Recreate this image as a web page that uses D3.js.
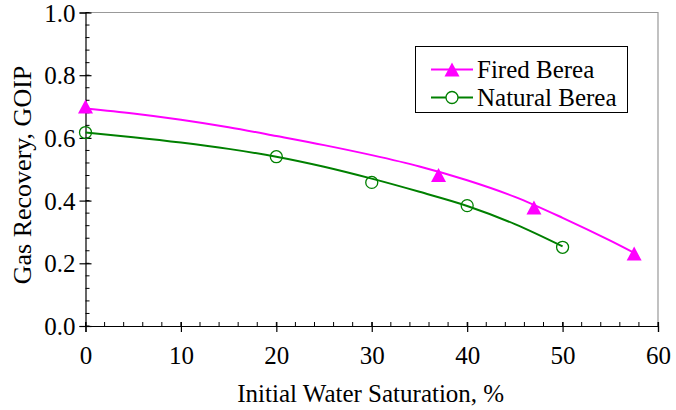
<!DOCTYPE html>
<html><head><meta charset="utf-8">
<script src="https://cdn.jsdelivr.net/npm/d3@7"></script>
<style>body{margin:0;background:#fff}svg{display:block}</style>
</head><body>
<svg id="c" width="676" height="410"></svg>
<script>
// Data
const firedX = [0, 37, 47, 57.5];
const firedY = [0.70, 0.482, 0.378, 0.231];
const naturalX = [0, 20, 30, 40, 50];
const naturalY = [0.617, 0.540, 0.458, 0.384, 0.251];
// Trend curves
const firedTrendX = [0, 5, 10, 15, 20, 25, 30, 35, 40, 45, 50, 55, 57.5];
const firedTrendY = [0.694, 0.678, 0.658, 0.634, 0.606, 0.577, 0.545, 0.509, 0.465, 0.412, 0.345, 0.272, 0.233];
const naturalTrendX = [0, 5, 10, 15, 20, 25, 30, 35, 40, 45, 50];
const naturalTrendY = [0.617, 0.602, 0.585, 0.565, 0.540, 0.508, 0.470, 0.428, 0.383, 0.325, 0.254];
const xTicks = [0, 10, 20, 30, 40, 50, 60];
const yTicks = [0.0, 0.2, 0.4, 0.6, 0.8, 1.0];
const seriesNames = ["Fired Berea", "Natural Berea"];
const xTitle = "Initial Water Saturation, %";
const yTitle = "Gas Recovery, GOIP";

const FONT = "'Liberation Serif'";
const svg = d3.select("#c");
const L = 85.5, R = 658, T = 12.5, B = 326;
const x = d3.scaleLinear().domain([0, 60]).range([L, R]);
const y = d3.scaleLinear().domain([0, 1]).range([B, T]);
const pink = "#ff00ff", green = "#008000";
const fs = 25;

// frame (top & right)
svg.append("path").attr("d", `M${L},${T}H${R}V${B}`).attr("fill","none").attr("stroke","#999").attr("stroke-width",1.2);

// minor ticks
const yMinor = d3.range(0, 1.0001, 0.04);
svg.append("g").selectAll("line").data(yMinor).join("line")
  .attr("x1", L).attr("x2", L + 4).attr("y1", d => y(d)).attr("y2", d => y(d))
  .attr("stroke", "#000").attr("stroke-width", 1);
const xMinor = d3.range(0, 60.001, 2);
svg.append("g").selectAll("line").data(xMinor).join("line")
  .attr("x1", d => x(d)).attr("x2", d => x(d)).attr("y1", B).attr("y2", B - 4)
  .attr("stroke", "#000").attr("stroke-width", 1);

// axes
const yAxis = svg.append("g").attr("transform", `translate(${L},0)`)
  .call(d3.axisLeft(y).tickValues(yTicks).tickFormat(d3.format(".1f")).tickSize(6).tickPadding(4));
const xAxis = svg.append("g").attr("transform", `translate(0,${B})`)
  .call(d3.axisBottom(x).tickValues(xTicks).tickFormat(d3.format("d")).tickSize(6).tickPadding(14));
[yAxis, xAxis].forEach(g => {
  g.attr("font-family", null).attr("font-size", null);
  g.select(".domain").attr("stroke", "#000").attr("stroke-width", 1.2);
  g.selectAll(".tick line").attr("stroke", "#000").attr("stroke-width", 1.2);
  g.selectAll("text").style("font-size", fs + "px").style("font-family", FONT).attr("fill", "#000");
});
yAxis.selectAll(".tick line").attr("x2", -6).attr("x1", 6);
xAxis.selectAll(".tick line").attr("y1", -4);
yAxis.selectAll(".tick text").attr("dy", "0.34em");

// titles
svg.append("text").attr("x", (L + R) / 2 - 1).attr("y", 402).attr("text-anchor", "middle")
  .style("font-family", FONT).style("font-size", fs + "px").text(xTitle);
svg.append("text").attr("transform", `translate(31,175) rotate(-90)`).attr("text-anchor", "middle")
  .style("font-family", FONT).style("font-size", "26px").text(yTitle);

// curves
const line = d3.line().x(d => x(d[0])).y(d => y(d[1])).curve(d3.curveMonotoneX);
svg.append("path").datum(d3.zip(firedTrendX, firedTrendY)).attr("d", line)
  .attr("fill", "none").attr("stroke", pink).attr("stroke-width", 2);
svg.append("path").datum(d3.zip(naturalTrendX, naturalTrendY)).attr("d", line)
  .attr("fill", "none").attr("stroke", green).attr("stroke-width", 2);

// markers
const tri = "M0,-7L7.5,7L-7.5,7Z";
svg.append("g").selectAll("path").data(d3.zip(firedX, firedY)).join("path")
  .attr("d", tri).attr("transform", d => `translate(${x(d[0])},${y(d[1])})`).attr("fill", pink);
svg.append("g").selectAll("circle").data(d3.zip(naturalX, naturalY)).join("circle")
  .attr("cx", d => x(d[0])).attr("cy", d => y(d[1])).attr("r", 6)
  .attr("fill", "none").attr("stroke", green).attr("stroke-width", 1.3);

// legend
const lg = svg.append("g");
lg.append("rect").attr("x", 415.5).attr("y", 46.5).attr("width", 212).attr("height", 66)
  .attr("fill", "#fff").attr("stroke", "#000").attr("stroke-width", 1);
const rows = [{name: seriesNames[0], c: pink, yy: 69.5}, {name: seriesNames[1], c: green, yy: 97.5}];
rows.forEach((r, i) => {
  lg.append("line").attr("x1", 431).attr("x2", 473).attr("y1", r.yy).attr("y2", r.yy)
    .attr("stroke", r.c).attr("stroke-width", 2);
  if (i === 0) lg.append("path").attr("d", tri).attr("transform", `translate(452,${r.yy})`).attr("fill", pink);
  else lg.append("circle").attr("cx", 452).attr("cy", r.yy).attr("r", 6).attr("fill", "#fff").attr("stroke", green).attr("stroke-width", 1.3);
  lg.append("text").attr("x", 477).attr("y", r.yy + 8).style("font-family", FONT).style("font-size", fs + "px").text(r.name);
});
</script>
</body></html>
